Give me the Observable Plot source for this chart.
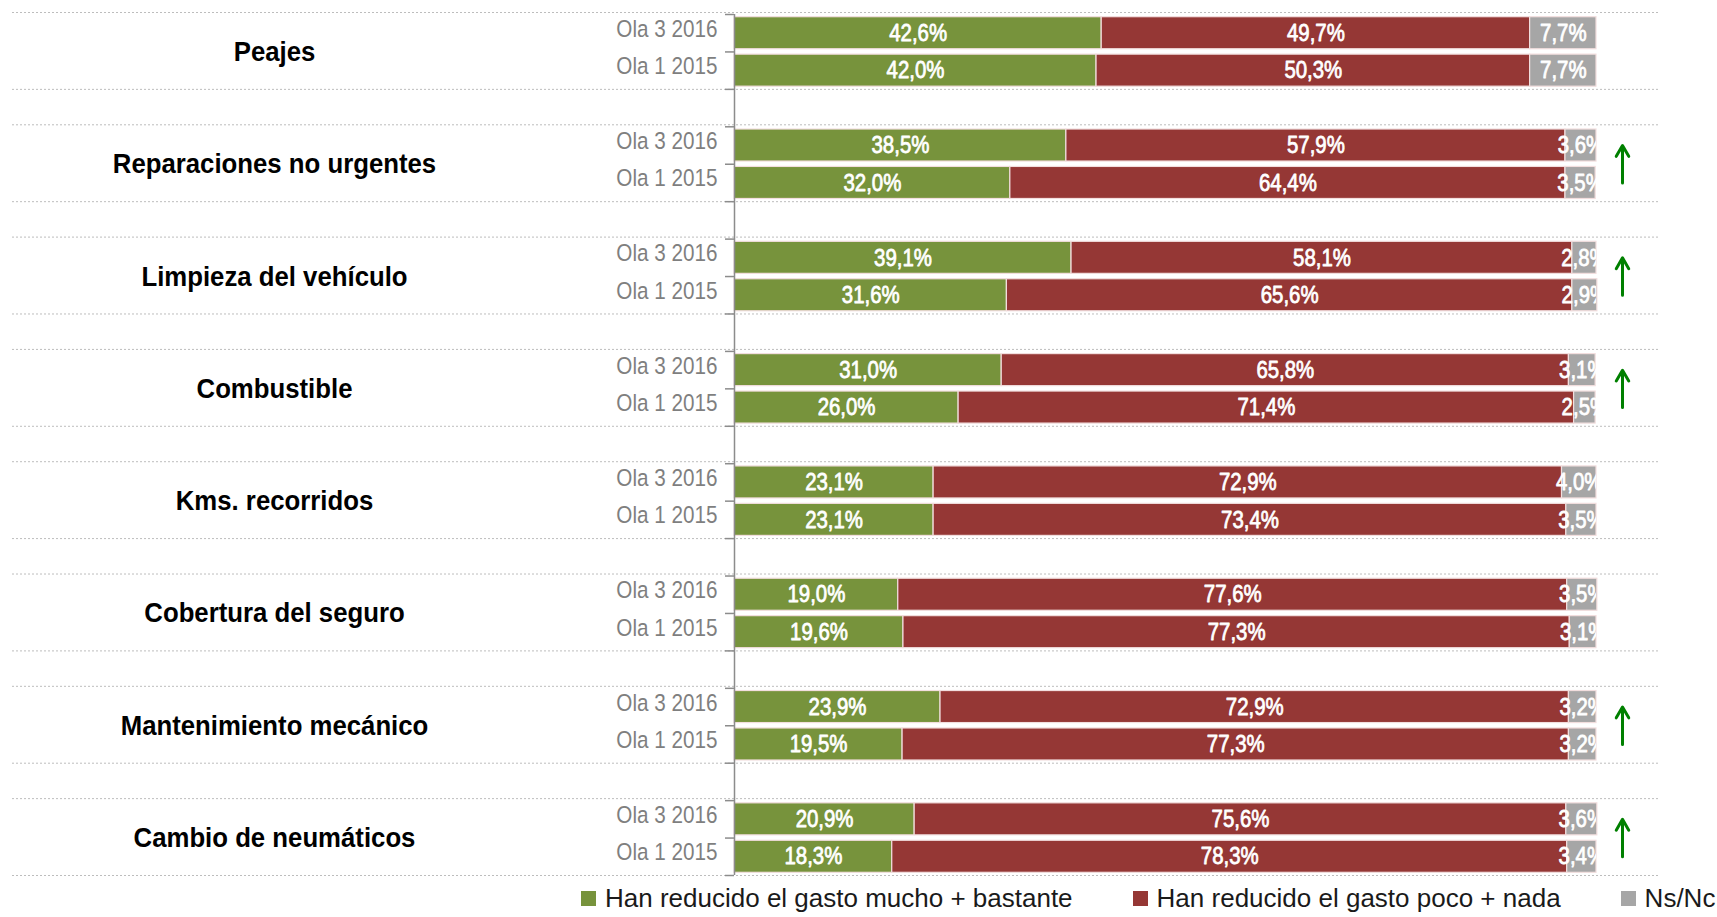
<!DOCTYPE html>
<html><head><meta charset="utf-8">
<script src="https://cdn.jsdelivr.net/npm/d3@7"></script>
<script src="https://cdn.jsdelivr.net/npm/@observablehq/plot@0.6"></script>
<style>
html,body{margin:0;padding:0;background:#fff;overflow:hidden;}
body{font-family:"Liberation Sans",Arial,sans-serif;}
#chart svg{display:block;}
#legend{display:flex;white-space:nowrap;padding-left:581px;height:37px;align-items:center;font-size:26px;color:#1a1a1a;}
#legend .item{display:flex;align-items:center;margin-right:60px;}
#legend .sw{width:15px;height:15px;margin-right:9px;display:inline-block;}
</style></head>
<body><div id="chart"></div><div id="legend"></div>
<script>
const categories = ["Peajes","Reparaciones no urgentes","Limpieza del vehículo","Combustible","Kms. recorridos","Cobertura del seguro","Mantenimiento mecánico","Cambio de neumáticos"];
const waves = ["Ola 3 2016","Ola 1 2015"];
const seriesNames = ["Han reducido el gasto mucho + bastante","Han reducido el gasto poco + nada","Ns/Nc"];
const seriesColors = ["#77933C","#953735","#A6A6A6"];
// Ola 3 2016
const mucho2016 = [42.6,38.5,39.1,31.0,23.1,19.0,23.9,20.9];
const poco2016  = [49.7,57.9,58.1,65.8,72.9,77.6,72.9,75.6];
const nsnc2016  = [7.7,3.6,2.8,3.1,4.0,3.5,3.2,3.6];
// Ola 1 2015
const mucho2015 = [42.0,32.0,31.6,26.0,23.1,19.6,19.5,18.3];
const poco2015  = [50.3,64.4,65.6,71.4,73.4,77.3,77.3,78.3];
const nsnc2015  = [7.7,3.5,2.9,2.5,3.5,3.1,3.2,3.4];
const improved  = [false,true,true,true,false,false,true,true];

const key = (c, w) => c + "|" + w;
const domain = [];
categories.forEach((c, i) => {
  domain.push(key(c, waves[0]), key(c, waves[1]));
  if (i < categories.length - 1) domain.push(key(c, "gap"));
});

const rows = [];
categories.forEach((c, i) => {
  const v16 = [mucho2016[i], poco2016[i], nsnc2016[i]];
  const v15 = [mucho2015[i], poco2015[i], nsnc2015[i]];
  [[waves[0], v16], [waves[1], v15]].forEach(([w, vals]) => {
    vals.forEach((v, s) => rows.push({key: key(c, w), series: seriesNames[s], value: v}));
  });
});

const W = 1717, H = 880, mTop = 14, mBottom = 5, mLeft = 734, mRight = 121;
const step = (H - mTop - mBottom) / domain.length;
const fmt = v => v.toFixed(1).replace(".", ",") + "%";
const font = '"Liberation Sans",Arial,sans-serif';

const chart = Plot.plot({
  width: W, height: H,
  marginTop: mTop, marginBottom: mBottom, marginLeft: mLeft, marginRight: mRight,
  style: {fontFamily: font, background: "#fff"},
  x: {domain: [0, 100], axis: null},
  y: {type: "band", domain, padding: 0, round: false, axis: null},
  color: {domain: seriesNames, range: seriesColors},
  marks: [
    // dotted group separators
    Plot.ruleY(categories, {y: c => key(c, waves[0]), dy: -step / 2 - 2, insetLeft: -722, insetRight: -62, stroke: "#bdbdbd", strokeDasharray: "2,2", strokeWidth: 1}),
    Plot.ruleY(categories, {y: c => key(c, waves[1]), dy: step / 2, insetLeft: -722, insetRight: -62, stroke: "#bdbdbd", strokeDasharray: "2,2", strokeWidth: 1}),
    // stacked bars
    Plot.barX(rows, Plot.stackX({x: "value", y: "key", z: "series", fill: "series", stroke: "#f2dede", strokeWidth: 1.2, insetTop: 2.7, insetBottom: 2.7})),
    Plot.text(rows, Plot.stackX({x: "value", y: "key", z: "series", text: d => fmt(d.value), fill: "white", stroke: "white", strokeWidth: 0.8, fontSize: 24, fontWeight: "normal", clip: true})),
    // axis line and boundary ticks
    Plot.ruleX([0], {stroke: "#8c8c8c", strokeWidth: 1.5}),
    Plot.ruleY(domain, {y: d => d, x1: 0, x2: 0, insetLeft: -9, dy: -step / 2, stroke: "#8c8c8c", strokeWidth: 1.5}),
    Plot.ruleY(domain.slice(-1), {y: d => d, x1: 0, x2: 0, insetLeft: -9, dy: step / 2, stroke: "#8c8c8c", strokeWidth: 1.5}),
    Plot.axisY({tickSize: 0, tickPadding: 17, dy: -4, tickFormat: d => d.split("|")[1] === "gap" ? "" : d.split("|")[1], fontSize: 23.5, fill: "#7f7f7f", label: null}),
    // category labels
    Plot.text(categories, {x: 0, y: c => key(c, waves[1]), dy: -step / 2, dx: -460, text: d => d, fontSize: 28, fontWeight: "bold", fill: "#000", textAnchor: "middle"}),
    // improvement arrows
    Plot.arrow(categories.filter((c, i) => improved[i]), {x: 100, y1: c => key(c, waves[1]), y2: c => key(c, waves[0]), dx: 26, stroke: "#008000", strokeWidth: 3, headLength: 14})
  ]
});
document.getElementById("chart").appendChild(chart);

// narrow the glyphs horizontally (Arial-Narrow-like look) around each label's anchor
const narrow = {"24": 0.85, "23.5": 0.88, "28": 0.92};
chart.querySelectorAll("text").forEach(t => {
  const tr = t.getAttribute("transform");
  const g = t.closest("[font-size]");
  const fs = g ? g.getAttribute("font-size") : null;
  if (tr && fs && narrow[fs]) t.setAttribute("transform", tr + ` scale(${narrow[fs]},1)`);
});

const legend = document.getElementById("legend");
seriesNames.forEach((n, i) => {
  const it = document.createElement("div");
  it.className = "item";
  it.innerHTML = `<span class="sw" style="background:${seriesColors[i]}"></span><span>${n}</span>`;
  legend.appendChild(it);
});
</script>
</body></html>
